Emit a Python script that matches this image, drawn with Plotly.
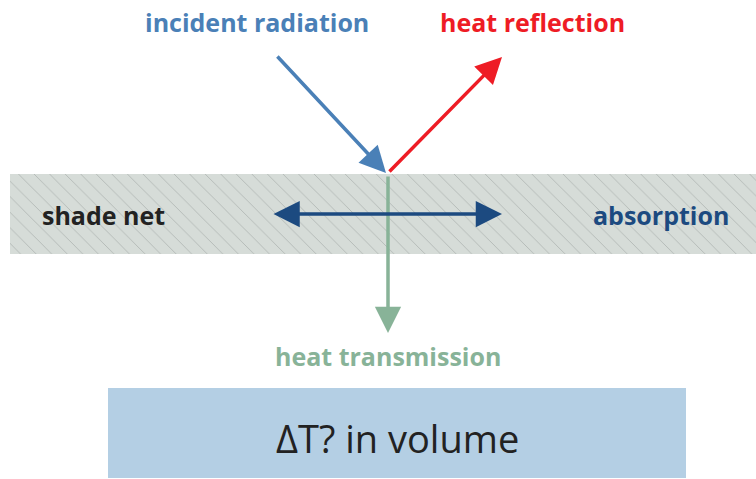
import plotly.graph_objects as go

W, H = 756, 479

# layer geometry (pixel space of the canvas)
net_span = [10, 756]
net_depth = [174, 254]
volume_span = [108, 686]
volume_depth = [388, 478]
hit_point = [388, 173]

labels = ["incident radiation", "heat reflection", "shade net", "absorption", "heat transmission"]
label_x = [257, 532, 103, 661, 388]
label_y = [22, 22, 215, 215, 356]
label_colors = ["#4a80b7", "#ee1c25", "#222222", "#1c4a80", "#88b398"]

volume_text = "ΔT? in volume"

FONT = "Open Sans, Noto Sans, sans-serif"

fig = go.Figure()

# shade net as a hatched band
fig.add_bar(
    x=[(net_span[0] + net_span[1]) / 2],
    y=[net_depth[1] - net_depth[0]],
    base=[net_depth[0]],
    width=[net_span[1] - net_span[0]],
    marker=dict(
        color="#d6dcd8",
        line_width=0,
        pattern=dict(shape="\\", fgcolor="#8d928f", bgcolor="#d6dcd8", size=11, solidity=0.08),
    ),
    hoverinfo="skip",
    showlegend=False,
)

fig.add_shape(
    type="rect", x0=volume_span[0], x1=volume_span[1], y0=volume_depth[0], y1=volume_depth[1],
    fillcolor="#b4cfe4", line_width=0, layer="below",
)
fig.add_annotation(
    x=sum(volume_span) / 2, y=438, text=volume_text, showarrow=False,
    font=dict(family=FONT, size=38, color="#222222"),
)

for txt, x, y, c in zip(labels, label_x, label_y, label_colors):
    fig.add_annotation(x=x, y=y, text=f"<b>{txt}</b>", showarrow=False,
                       font=dict(family=FONT, size=25, color=c))

arrow = dict(xref="x", yref="y", axref="x", ayref="y", text="", showarrow=True,
             arrowhead=2, arrowsize=1.5, arrowwidth=3.5)
# incident
fig.add_annotation(x=hit_point[0] - 2, y=hit_point[1], ax=276, ay=55, arrowcolor="#4a80b7", **arrow)
# reflection
fig.add_annotation(x=502, y=57, ax=hit_point[0], ay=hit_point[1], arrowcolor="#ee1c25", **arrow)
# transmission
fig.add_annotation(x=hit_point[0], y=333, ax=hit_point[0], ay=hit_point[1] + 2, arrowcolor="#88b398", **arrow)
# absorption (both directions)
fig.add_annotation(x=502, y=214, ax=272, ay=214, arrowcolor="#1c4a80", arrowside="end+start", **arrow)

fig.update_layout(
    width=W, height=H,
    margin=dict(l=0, r=0, t=0, b=0),
    paper_bgcolor="white", plot_bgcolor="white",
    xaxis=dict(range=[0, W], visible=False, fixedrange=True),
    yaxis=dict(range=[H, 0], visible=False, fixedrange=True),
    bargap=0,
)

fig.write_html("out.html", config={"displayModeBar": False},
               post_script="document.body.style.margin='0';")
